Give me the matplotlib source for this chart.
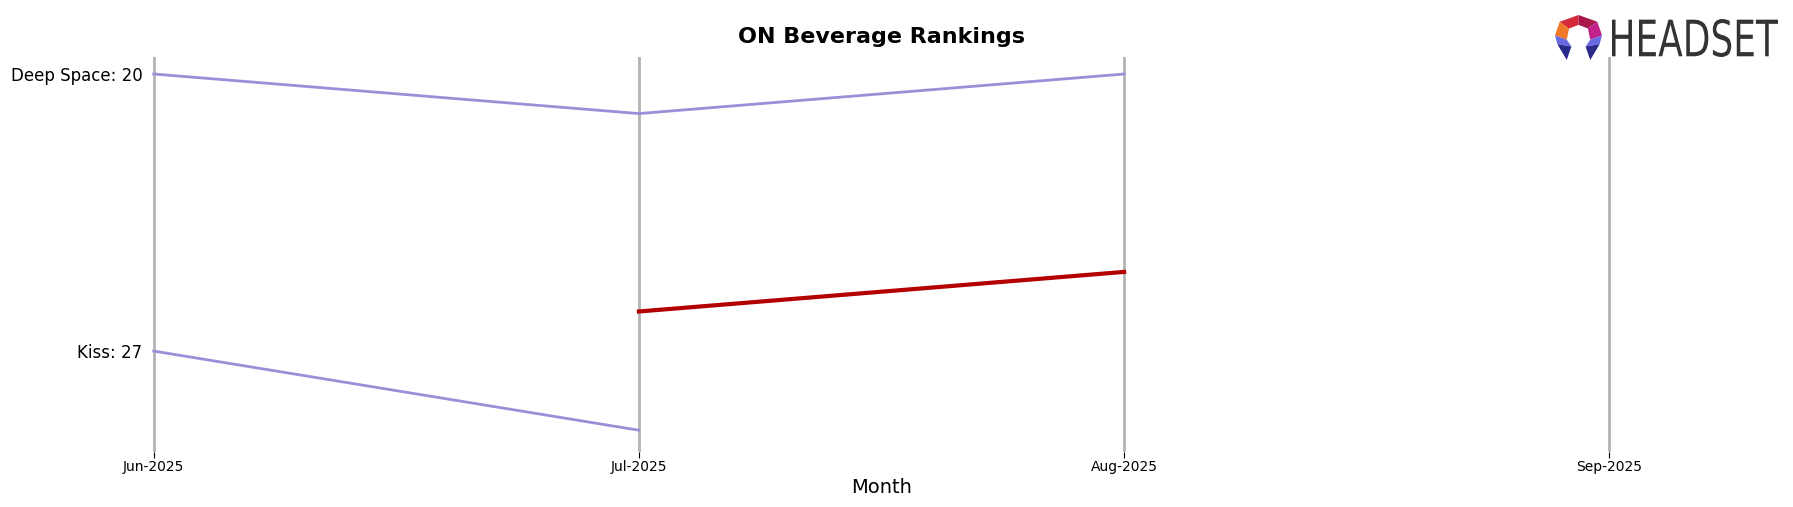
import numpy as np
import matplotlib.pyplot as plt
from matplotlib.textpath import TextPath
from matplotlib.patches import PathPatch, Polygon
from matplotlib.font_manager import FontProperties

# data
months = ['Jun-2025', 'Jul-2025', 'Aug-2025', 'Sep-2025']
deep_space = [20, 21, 20, np.nan]
kiss = [27, 29, np.nan, np.nan]
on_beverage = [np.nan, 26, 25, np.nan]
label_ticks = [20, 27]
label_names = ['Deep Space: 20', 'Kiss: 27']

x = np.arange(len(months))

fig = plt.figure(figsize=(17.93, 5.07), dpi=100)
ax = fig.add_axes([0.0803, 0.1085, 0.8227, 0.7791])

for xi in x:
    ax.axvline(xi, color='#b3b3b3', lw=2, zorder=1)

ax.plot(x, deep_space, color='#9b8fd9', lw=2, zorder=2)
ax.plot(x, kiss, color='#9b8fd9', lw=2, zorder=2)
ax.plot(x, on_beverage, color='#b30000', lw=3, zorder=3)

ax.set_xlim(-0.02, 3.02)
ax.set_ylim(29.55, 19.57)
ax.set_xticks(x)
ax.set_xticklabels(months, fontsize=10)
ax.set_yticks(label_ticks)
ax.set_yticklabels(label_names, fontsize=12)
ax.tick_params(axis='y', length=0, pad=1)
ax.tick_params(axis='x', length=4, width=0.8, pad=1.5)
for s in ax.spines.values():
    s.set_visible(False)
ax.set_xlabel('Month', fontsize=14, labelpad=3)
ax.set_title('ON Beverage Rankings', fontsize=16, fontweight='bold', pad=10)

# logo text, stretched into its box
tax = fig.add_axes([1612 / 1793, 1 - 57 / 507, 166 / 1793, 38 / 507])
tp = TextPath((0, 0), 'HEADSET', size=10, prop=FontProperties(family='DejaVu Sans'))
tax.add_patch(PathPatch(tp, color='#333333', lw=0))
ext = tp.get_extents()
tax.set_xlim(ext.x0, ext.x1)
tax.set_ylim(ext.y0, ext.y1)
tax.axis('off')

# logo icon
iax = fig.add_axes([1555 / 1793, 1 - 60 / 507, 47 / 1793, 45 / 507])
pieces = [
    ([(0.0, 0.55), (0.1, 0.85), (0.3, 0.7), (0.25, 0.45)], '#f07a2a'),
    ([(0.1, 0.85), (0.5, 1.0), (0.5, 0.78), (0.3, 0.7)], '#d42a3a'),
    ([(0.5, 1.0), (0.9, 0.85), (0.7, 0.7), (0.5, 0.78)], '#a8184a'),
    ([(0.9, 0.85), (1.0, 0.55), (0.75, 0.45), (0.7, 0.7)], '#c0208a'),
    ([(0.0, 0.55), (0.25, 0.45), (0.35, 0.3), (0.05, 0.35)], '#6a6ae0'),
    ([(0.05, 0.35), (0.35, 0.3), (0.25, 0.0)], '#2a2a8a'),
    ([(1.0, 0.55), (0.75, 0.45), (0.65, 0.3), (0.95, 0.35)], '#6a6ae0'),
    ([(0.95, 0.35), (0.65, 0.3), (0.75, 0.0)], '#2a2a8a'),
]
for pts, c in pieces:
    iax.add_patch(Polygon(pts, closed=True, color=c, lw=0))
iax.set_xlim(0, 1)
iax.set_ylim(0, 1)
iax.axis('off')

fig.savefig('out.png', dpi=100)
